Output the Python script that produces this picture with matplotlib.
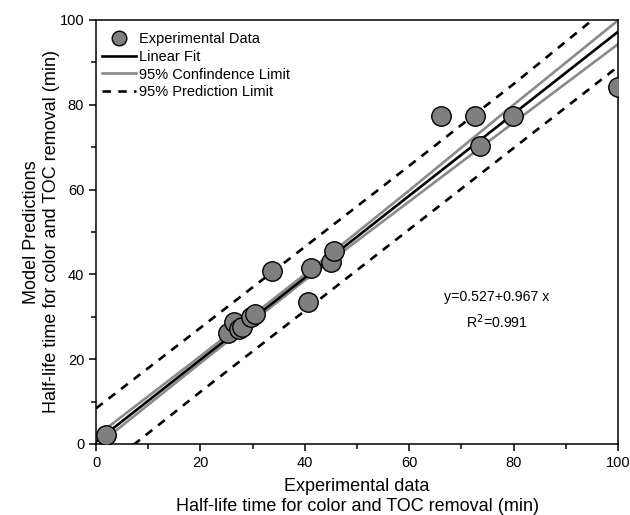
import numpy as np
from matplotlib import pyplot as plt

plt.rcParams['font.family'] = ['Liberation Sans', 'DejaVu Sans']

# experimental half-life times vs model predictions (min)
x_exp = [2.0, 25.3, 26.4, 27.4, 28.0, 29.7, 30.5, 33.7, 40.7, 41.1, 45.0, 45.5, 66.0, 72.6, 73.6, 79.9, 100.0]
y_pred = [2.1, 26.2, 28.7, 27.1, 27.6, 29.9, 30.7, 40.7, 33.6, 41.5, 43.0, 45.6, 77.3, 77.3, 70.2, 77.3, 84.3]

# linear fit y = a + b x
intercept = 0.527
slope = 0.967
r2 = 0.991

# band limits read along x
x_band = [0, 20, 40, 60, 80, 100]
conf_upper = [1.8, 20.7, 40.0, 59.8, 80.0, 99.9]
conf_lower = [-0.6, 19.1, 38.6, 57.2, 75.8, 94.3]
pred_upper = [8.4, 27.4, 46.5, 65.6, 84.9, 104.9]
pred_lower = [-7.2, 12.3, 31.4, 50.6, 69.8, 89.0]

fig = plt.figure(figsize=(6.3, 5.15), dpi=100)
ax = fig.add_axes([0.1524, 0.1379, 0.8286, 0.8233])

xf = np.array([0, 100])
ax.plot(xf, intercept + slope * xf, color='black', lw=1.9, label='Linear Fit', zorder=3)
ax.plot(x_band, conf_upper, color='#8a8a8a', lw=1.9, label='95% Confindence Limit', zorder=2)
ax.plot(x_band, conf_lower, color='#8a8a8a', lw=1.9, zorder=2)
ax.plot(x_band, pred_upper, color='black', lw=1.9, ls=(0, (3.2, 2.8)), label='95% Prediction Limit', zorder=2)
ax.plot(x_band, pred_lower, color='black', lw=1.9, ls=(0, (3.2, 2.8)), zorder=2)
ax.plot(x_exp, y_pred, 'o', ms=14, mfc='#7f7f7f', mec='black', mew=1.0,
        ls='none', label='Experimental Data', zorder=4)

ax.set_xlim(0, 100)
ax.set_ylim(0, 100)
ax.set_xticks(range(0, 101, 20))
ax.set_yticks(range(0, 101, 20))
ax.set_xticks(range(10, 100, 20), minor=True)
ax.set_yticks(range(10, 100, 20), minor=True)
ax.tick_params(which='major', direction='out', length=5, width=1.1, labelsize=10.5, top=False, right=False)
ax.tick_params(which='minor', direction='out', length=3.5, width=1.1, top=False, right=False)
for sp in ax.spines.values():
    sp.set_linewidth(1.1)

ax.set_xlabel('Experimental data\nHalf-life time for color and TOC removal (min)', fontsize=13, labelpad=6, linespacing=1.25)
ax.set_ylabel('Model Predictions\nHalf-life time for color and TOC removal (min)', fontsize=13, labelpad=0, linespacing=1.2)

ax.text(76.8, 34.7, 'y=%.3f+%.3f x' % (intercept, slope), fontsize=10.2, ha='center', va='center')
ax.text(76.8, 28.8, 'R$^2$=%.3f' % r2, fontsize=10.2, ha='center', va='center')

handles, labels = ax.get_legend_handles_labels()
order = [3, 0, 1, 2]
leg = ax.legend([handles[i] for i in order], [labels[i] for i in order],
                loc='upper left', bbox_to_anchor=(0.012, 0.971), frameon=False,
                fontsize=10.5, handlelength=2.3, handletextpad=0.25, labelspacing=0.25,
                borderaxespad=0, borderpad=0, markerscale=0.75)

fig.savefig('out.png', dpi=100)
